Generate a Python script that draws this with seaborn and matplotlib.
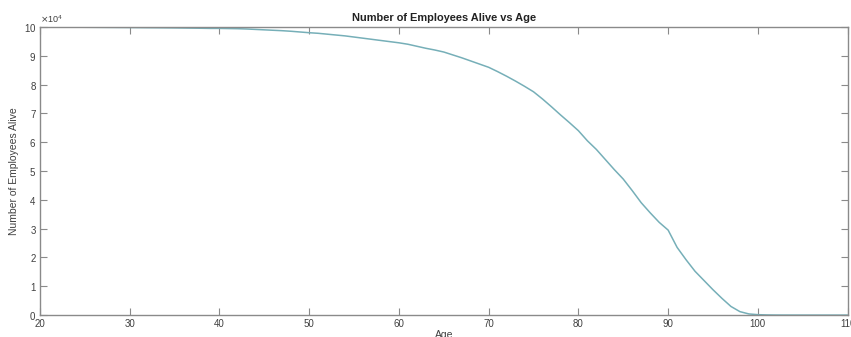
import numpy as np
import pandas as pd
import matplotlib
matplotlib.use("Agg")
import matplotlib.pyplot as plt
from matplotlib.ticker import ScalarFormatter, MultipleLocator
import seaborn as sns

# Ages covered by the survival table
ages = list(range(20, 111))

# Employees still alive at each age
alive = [
    100000, 99980, 99960, 99940, 99920, 99900, 99880, 99860, 99840, 99820,  # 20-29
    99800, 99780, 99750, 99730, 99700, 99670, 99630, 99590, 99550, 99500,   # 30-39
    99500, 99450, 99400, 99300, 99150, 99000, 98850, 98700, 98500, 98250,   # 40-49
    98000, 97800, 97500, 97200, 96900, 96500, 96100, 95700, 95300, 94900,   # 50-59
    94500, 94000, 93300, 92600, 92000, 91300, 90300, 89300, 88200, 87100,   # 60-69
    86000, 84500, 82900, 81200, 79400, 77500, 75000, 72300, 69500, 66800,   # 70-79
    64000, 60500, 57500, 54000, 50500, 47200, 43200, 39000, 35500, 32200,   # 80-89
    29500, 23500, 19200, 15200, 12000, 8800, 5800, 3000, 1200, 400,         # 90-99
    150, 60, 20, 10, 5, 3, 2, 1, 0, 0, 0,                                   # 100-110
]

x_ticks = [20, 30, 40, 50, 60, 70, 80, 90, 100, 110]

df = pd.DataFrame({"Age": ages, "Alive": alive})

sns.set_theme(style="white")
plt.rcParams["font.family"] = ["Liberation Sans", "DejaVu Sans"]

fig = plt.figure(figsize=(8.51, 3.37), dpi=100)
ax = fig.add_axes([0.047, 0.065, 0.949, 0.855])

sns.lineplot(data=df, x="Age", y="Alive", ax=ax, color="#76afb8", linewidth=1.1)

ax.set_xlim(20, 110)
ax.set_ylim(0, 100000)
ax.set_xticks(x_ticks)
ax.yaxis.set_major_locator(MultipleLocator(10000))

fmt = ScalarFormatter(useMathText=True)
fmt.set_powerlimits((4, 4))
ax.yaxis.set_major_formatter(fmt)
ax.yaxis.get_offset_text().set_fontsize(6.5)
ax.yaxis.get_offset_text().set_color("#404040")

for side in ["left", "right", "top", "bottom"]:
    ax.spines[side].set_visible(True)
    ax.spines[side].set_color("#8a8a8a")
    ax.spines[side].set_linewidth(1.0)

ax.tick_params(axis="both", which="major", direction="in", length=5, width=0.8,
               colors="#8a8a8a", labelcolor="#404040", labelsize=7,
               top=True, right=True, bottom=True, left=True, pad=2.5)

ax.set_title("Number of Employees Alive vs Age", fontsize=7.9, fontweight="bold",
             color="#222222", pad=4)
ax.set_xlabel("Age", fontsize=7.5, color="#404040", labelpad=1)
ax.set_ylabel("Number of Employees Alive", fontsize=7.5, color="#404040", labelpad=4)

fig.savefig("out.png", dpi=100)
